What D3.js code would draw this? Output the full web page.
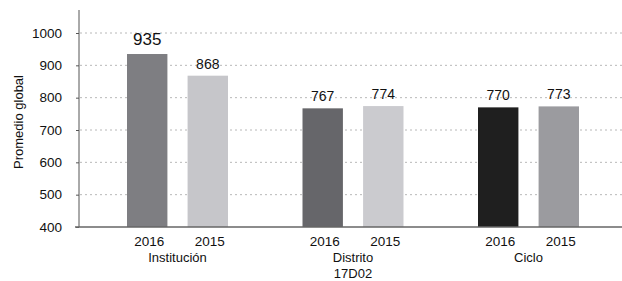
<!DOCTYPE html>
<html>
<head>
<meta charset="utf-8">
<script src="https://cdn.jsdelivr.net/npm/d3@7"></script>
<style>
  body { margin: 0; background: #fff; }
  svg { display: block; font-family: "Liberation Sans", Arial, sans-serif; }
</style>
</head>
<body>
<svg id="chart" width="622" height="281"></svg>
<script>
// chart data
const groups = ['Institución', 'Distrito\n17D02', 'Ciclo'];
const years = ['2016', '2015'];
const values2016 = [935, 767, 770];
const values2015 = [868, 774, 773];
const barColors = [
  ['#7e7e82', '#c6c6ca'],
  ['#66666a', '#cbcbcf'],
  ['#1f1f1f', '#9b9b9f']
];
const yTicks = [400, 500, 600, 700, 800, 900, 1000];

const svg = d3.select('#chart');

// scales
const y = d3.scaleLinear().domain([400, 1000]).range([227, 33]);
const x0 = d3.scaleBand().domain(groups).range([79, 627]).paddingInner(0.4245).paddingOuter(0.2735);
const x1 = d3.scaleBand().domain(years).range([0, x0.bandwidth()]).paddingInner(0.333);

// dotted gridlines
svg.append('g')
  .selectAll('line')
  .data(yTicks.slice(1))
  .join('line')
  .attr('x1', 80).attr('x2', 622)
  .attr('y1', d => y(d)).attr('y2', d => y(d))
  .attr('stroke', '#b8b8b8')
  .attr('stroke-width', 1)
  .attr('stroke-dasharray', '2,3');

// bars
const rows = groups.map((g, i) => ({
  group: g,
  bars: [
    { year: '2016', value: values2016[i], color: barColors[i][0], big: i === 0 },
    { year: '2015', value: values2015[i], color: barColors[i][1], big: false }
  ]
}));

const gGroups = svg.append('g')
  .selectAll('g')
  .data(rows)
  .join('g')
  .attr('transform', d => `translate(${x0(d.group)},0)`);

gGroups.selectAll('rect')
  .data(d => d.bars)
  .join('rect')
  .attr('x', d => x1(d.year))
  .attr('y', d => y(d.value))
  .attr('width', x1.bandwidth())
  .attr('height', d => y(400) - y(d.value))
  .attr('fill', d => d.color);

// value labels
gGroups.selectAll('.val')
  .data(d => d.bars)
  .join('text')
  .attr('class', 'val')
  .attr('x', d => x1(d.year) + x1.bandwidth() / 2)
  .attr('y', d => y(d.value) - (d.big ? 9 : 7))
  .attr('text-anchor', 'middle')
  .attr('font-size', d => d.big ? '17px' : '14px')
  .attr('fill', '#111')
  .text(d => d.value);

// year labels
gGroups.selectAll('.yr')
  .data(d => d.bars)
  .join('text')
  .attr('class', 'yr')
  .attr('x', d => x1(d.year) + x1.bandwidth() / 2 + 2)
  .attr('y', 246)
  .attr('text-anchor', 'middle')
  .attr('font-size', '13.5px')
  .attr('fill', '#111')
  .text(d => d.year);

// group labels
gGroups.append('text')
  .attr('x', x0.bandwidth() / 2)
  .attr('y', 262)
  .attr('text-anchor', 'middle')
  .attr('font-size', '13px')
  .attr('fill', '#111')
  .selectAll('tspan')
  .data(d => d.group.split('\n'))
  .join('tspan')
  .attr('x', x0.bandwidth() / 2)
  .attr('dy', (d, i) => i === 0 ? 0 : 16)
  .text(d => d);

// y axis
const yAxis = d3.axisLeft(y).tickValues(yTicks).tickFormat(d3.format('d')).tickSize(3).tickPadding(14);
const gy = svg.append('g')
  .attr('transform', 'translate(79,0)')
  .call(yAxis);
gy.select('.domain').remove();
gy.selectAll('.tick line').attr('stroke', '#555');
gy.selectAll('.tick text')
  .attr('font-size', '13.5px')
  .attr('font-family', '"Liberation Sans", Arial, sans-serif')
  .attr('fill', '#111');

svg.append('line')
  .attr('x1', 79).attr('x2', 79)
  .attr('y1', 10).attr('y2', y(400))
  .attr('stroke', '#555');

// baseline
svg.append('line')
  .attr('x1', 75).attr('x2', 622)
  .attr('y1', y(400)).attr('y2', y(400))
  .attr('stroke', '#666')
  .attr('stroke-width', 1.5);

// axis title
svg.append('text')
  .attr('transform', 'translate(23,122) rotate(-90)')
  .attr('text-anchor', 'middle')
  .attr('font-size', '13px')
  .attr('fill', '#111')
  .text('Promedio global');
</script>
</body>
</html>
